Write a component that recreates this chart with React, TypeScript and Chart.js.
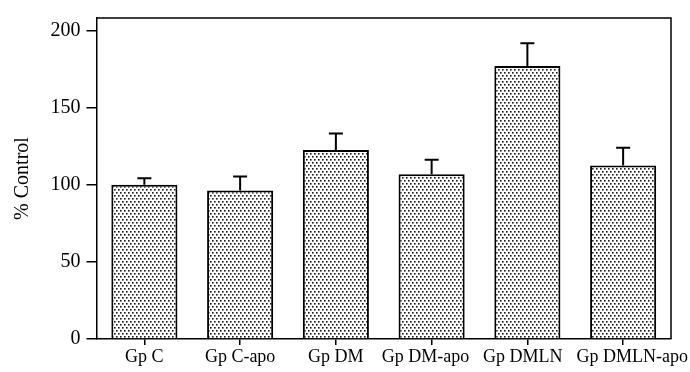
import React, { useEffect, useRef } from "react";
import { Chart, registerables } from "chart.js";

Chart.register(...registerables);

const categories = ["Gp C", "Gp C-apo", "Gp DM", "Gp DM-apo", "Gp DMLN", "Gp DMLN-apo"];
const meanValues = [100, 96.2, 122.4, 106.8, 176.9, 112.4];
const errorValues = [4.2, 9.1, 10.8, 9.4, 14.7, 11.6];
const yTicks = [0, 50, 100, 150, 200];

const FONT = "'Liberation Serif', 'Times New Roman', serif";
const X_LABEL_FONT = `18px ${FONT}`;
const X_LABEL_GAP = 14;

// Stippled fill used for every bar
function makeStipple(): CanvasPattern | string {
  const c = document.createElement("canvas");
  c.width = 4;
  c.height = 6;
  const g = c.getContext("2d");
  if (!g) return "#bbb";
  g.fillStyle = "#ffffff";
  g.fillRect(0, 0, 4, 6);
  g.fillStyle = "#1a1a1a";
  g.fillRect(0, 0, 1.6, 1.6);
  g.fillRect(2, 3, 1.6, 1.6);
  const p = g.createPattern(c, "repeat");
  return p || "#bbb";
}

// Upward-only error whiskers with a short cap
const errorBarPlugin = {
  id: "errorBars",
  afterDatasetsDraw(chart: any) {
    const ctx = chart.ctx;
    const meta = chart.getDatasetMeta(0);
    const yScale = chart.scales.y;
    ctx.save();
    ctx.strokeStyle = "#000";
    ctx.lineWidth = 2;
    meta.data.forEach((bar: any, i: number) => {
      const x = bar.x;
      const yTop = yScale.getPixelForValue(meanValues[i]);
      const yErr = yScale.getPixelForValue(meanValues[i] + errorValues[i]);
      ctx.beginPath();
      ctx.moveTo(x, yTop);
      ctx.lineTo(x, yErr);
      ctx.moveTo(x - 7, yErr);
      ctx.lineTo(x + 7, yErr);
      ctx.stroke();
    });
    ctx.restore();
  },
};

// Category labels under the axis; neighbours that would crowd each other are nudged apart
const xLabelPlugin = {
  id: "xLabels",
  afterDraw(chart: any) {
    const { ctx } = chart;
    const xScale = chart.scales.x;
    ctx.save();
    ctx.font = X_LABEL_FONT;
    ctx.fillStyle = "#000";
    ctx.textBaseline = "top";
    ctx.textAlign = "left";
    const items = categories.map((label, i) => {
      const w = ctx.measureText(label).width;
      const cx = xScale.getPixelForValue(i);
      return { label, w, left: cx - w / 2 };
    });
    for (let pass = 0; pass < 20; pass++) {
      let moved = false;
      for (let i = 0; i < items.length - 1; i++) {
        const a = items[i];
        const b = items[i + 1];
        const gap = b.left - (a.left + a.w);
        if (gap < X_LABEL_GAP - 0.1) {
          const d = (X_LABEL_GAP - gap) / 2;
          a.left -= d;
          b.left += d;
          moved = true;
        }
      }
      const last = items[items.length - 1];
      const overflow = last.left + last.w - (chart.width - 2);
      if (overflow > 0) {
        last.left -= overflow;
        moved = true;
      }
      if (!moved) break;
    }
    const y = xScale.top + 9;
    items.forEach((it) => ctx.fillText(it.label, it.left, y));
    ctx.restore();
  },
};

// Top and right frame lines
const framePlugin = {
  id: "frame",
  afterDraw(chart: any) {
    const { ctx, chartArea } = chart;
    ctx.save();
    ctx.strokeStyle = "#000";
    ctx.lineWidth = 1.5;
    ctx.beginPath();
    ctx.moveTo(chartArea.left, chartArea.top);
    ctx.lineTo(chartArea.right, chartArea.top);
    ctx.lineTo(chartArea.right, chartArea.bottom);
    ctx.stroke();
    ctx.restore();
  },
};

export default function App() {
  const ref = useRef<HTMLCanvasElement | null>(null);

  useEffect(() => {
    if (!ref.current) return;
    const chart = new Chart(ref.current, {
      type: "bar",
      data: {
        labels: categories,
        datasets: [
          {
            data: meanValues,
            backgroundColor: makeStipple() as any,
            borderColor: "#000",
            borderWidth: 2,
            categoryPercentage: 1,
            barPercentage: 0.69,
          },
        ],
      },
      options: {
        responsive: false,
        animation: false,
        events: [],
        layout: { padding: { top: 10, right: 19, left: 0, bottom: 0 } },
        plugins: { legend: { display: false }, tooltip: { enabled: false } },
        scales: {
          x: {
            offset: true,
            grid: {
              offset: false,
              drawOnChartArea: false,
              tickLength: 6,
              color: "#000",
              lineWidth: 1.5,
            },
            border: { color: "#000", width: 1.5 },
            ticks: { display: false },
            afterFit(scale: any) {
              scale.height = 33;
            },
          },
          y: {
            min: 0,
            max: 208,
            grid: {
              drawOnChartArea: false,
              tickLength: 10,
              color: "#000",
              lineWidth: 1.5,
            },
            border: { color: "#000", width: 1.5 },
            afterBuildTicks(scale: any) {
              scale.ticks = yTicks.map((v) => ({ value: v }));
            },
            ticks: {
              color: "#000",
              font: { family: FONT, size: 20 },
              padding: 6,
            },
            title: {
              display: true,
              text: "% Control",
              color: "#000",
              font: { family: FONT, size: 20 },
              padding: { top: 11, bottom: 0 },
            },
            afterFit(scale: any) {
              scale.width = 96.5;
            },
          },
        },
      },
      plugins: [errorBarPlugin, xLabelPlugin, framePlugin],
    });
    return () => chart.destroy();
  }, []);

  return (
    <div style={{ position: "fixed", left: 0, top: 0, width: 690, height: 372, background: "#fff" }}>
      <canvas ref={ref} width={690} height={372} />
    </div>
  );
}
